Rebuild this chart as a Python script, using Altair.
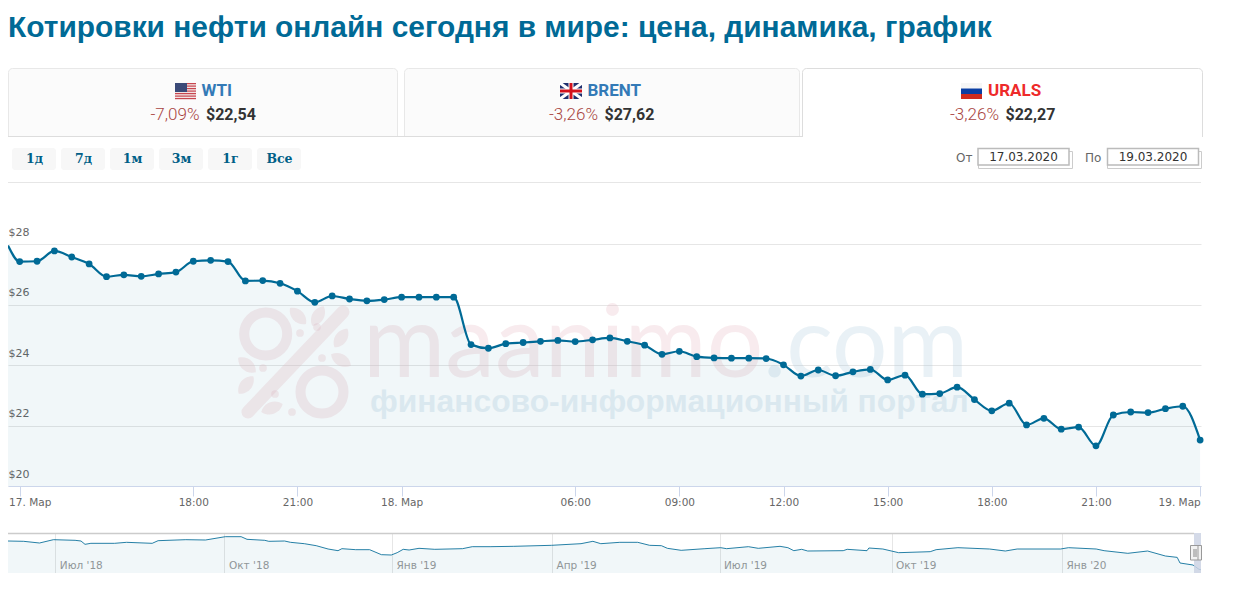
import altair as alt
import pandas as pd

# ---------- data ----------
hours_index = list(range(69))
urals_start = 27.96
urals = [27.43, 27.44, 27.78, 27.58, 27.35, 26.93, 26.99, 26.94, 27.02, 27.08,
         27.44, 27.47, 27.43, 26.79, 26.80, 26.71, 26.45, 26.08, 26.29, 26.19,
         26.13, 26.17, 26.25, 26.25, 26.25, 26.25, 24.68, 24.56, 24.71, 24.75,
         24.79, 24.82, 24.78, 24.84, 24.90, 24.79, 24.66, 24.36, 24.46, 24.28,
         24.24, 24.23, 24.23, 24.22, 24.01, 23.64, 23.84, 23.65, 23.78, 23.86,
         23.51, 23.67, 23.04, 23.06, 23.27, 22.86, 22.49, 22.74, 22.02, 22.24,
         21.88, 21.95, 21.33, 22.35, 22.45, 22.43, 22.56, 22.64, 21.52]
tick_index = [0, 10, 16, 22, 32, 38, 44, 50, 56, 62, 68]
tick_text = ["17. Мар", "18:00", "21:00", "18. Мар", "06:00", "09:00", "12:00",
             "15:00", "18:00", "21:00", "19. Мар"]
price_ticks = [20, 22, 24, 26, 28]

nav_pos = [0, 15.7, 31.5, 45.4, 67.1, 73, 77, 82.9, 106.6, 118.5, 144.2, 150.1, 177.8,
           197.5, 217.3, 233.1, 239, 256.8, 260.8, 276.6, 282.5, 296.3, 308.2, 320.1,
           330, 333.9, 347.7, 361.6, 373.4, 383.3, 389.2, 395.2, 401.1, 411, 426.8,
           454.5, 464.3, 482.1, 505.8, 543.4, 573, 584.9, 592.8, 611.8,
           629.7, 641.6, 653.4, 659.4, 673.2, 696.9, 712.7, 718.6, 740.4, 750.3, 772,
           779.9, 785.8, 793.7, 799.7, 835.2, 839.2, 859, 860.9, 874.8, 890.6, 922.2,
           928.1, 949.9, 981.5, 997.3, 1009.2, 1052.6, 1060.5, 1088.2, 1096.1, 1119.8,
           1139.6, 1157.4, 1169.2, 1172, 1185, 1191, 1193]
nav_price = [77.1, 76.5, 73.3, 79.6, 78.4, 77.1, 70.8, 72.7, 72.7, 74.6, 72.7, 77.7, 79.6,
             79, 85.3, 85.3, 80.3, 78.4, 76.5, 77.1, 74.6, 72, 68.2, 61.9,
             58.7, 62.5, 60.6, 60.6, 51.1, 50.5, 54.9, 61.3, 60, 63.2, 61.3,
             62.5, 66.3, 66.3, 67, 68.9, 72, 76.5, 72, 74.6,
             74.6, 68.9, 68.2, 63.2, 59.4, 62.5, 64.4, 62.5, 66.3, 63.2, 67,
             64.4, 58.7, 61.3, 58.1, 58.7, 61.3, 58.7, 63.8, 61.9, 54.9, 56.8,
             60.6, 64.4, 61.9, 58.1, 61.9, 61.9, 64.4, 61.9, 58.7, 53.7,
             58.1, 48.6, 46, 35.3, 31.5, 23.3, 22.6]
nav_tick_pos = [47.3, 216.5, 384, 544, 711.5, 883.5, 1054]
nav_tick_text = ["Июл '18", "Окт '18", "Янв '19", "Апр '19", "Июл '19", "Окт '19", "Янв '20"]

tab_names = ["WTI", "BRENT", "URALS"]
tab_change = ["-7,09%", "-3,26%", "-3,26%"]
tab_price = ["$22,54", "$27,62", "$22,27"]
range_buttons = ["1д", "7д", "1м", "3м", "1г", "Все"]
page_title = "Котировки нефти онлайн сегодня в мире: цена, динамика, график"
date_from = "17.03.2020"
date_to = "19.03.2020"

# ---------- palette ----------
BLUE = "#006a96"
GRID = "#e6e6e6"
AXIS = "#ccd6eb"
LABEL = "#666666"
FILL_OPACITY = 0.055
FONT_AXIS = "DejaVu Sans"

one = alt.Data(values=[{}])


def labels_expr(pos, txt):
    body = ",".join(f"'{p}':\"{t}\"" for p, t in zip(pos, txt))
    return "{" + body + "}['' + datum.value]"


# ---------- helpers working in page pixels for the page furniture ----------
def header_box(x0, y0, x1, y1, fill=None, stroke=None, sw=1, **kw):
    opts = dict(kw)
    if fill:
        opts["fill"] = fill
    else:
        opts["fillOpacity"] = 0
    if stroke:
        opts["stroke"] = stroke
        opts["strokeWidth"] = sw
    return alt.Chart(one).mark_rect(**opts).encode(
        x=alt.value(x0 - 8), x2=alt.value(x1 - 8), y=alt.value(y0 - 8), y2=alt.value(y1 - 8))


def header_text(x, y, text, size, color, font="Roboto", weight="normal", align="left"):
    return alt.Chart(one).mark_text(
        font=font, fontSize=size, color=color, fontWeight=weight, align=align, baseline="middle"
    ).encode(x=alt.value(x - 8), y=alt.value(y - 8), text=alt.value(text))


def header_line(x0, y0, x1, y1, color, sw=1):
    return alt.Chart(one).mark_rule(color=color, strokeWidth=sw).encode(
        x=alt.value(x0 - 8), x2=alt.value(x1 - 8), y=alt.value(y0 - 8), y2=alt.value(y1 - 8))


layers = [header_text(8, 27.7, page_title, 29.9, BLUE, font="Liberation Sans", weight="bold")]

# tabs
TAB_R = {"cornerRadiusTopLeft": 4, "cornerRadiusTopRight": 4}
layers += [
    header_box(8.5, 68.5, 397.5, 140, fill="#fbfbfb", stroke="#e8e8e8", **TAB_R),
    header_box(404.5, 68.5, 799.5, 140, fill="#fbfbfb", stroke="#e8e8e8", **TAB_R),
    header_box(802.5, 68.5, 1202.5, 140, fill="#ffffff", stroke="#dddddd", **TAB_R),
    header_box(8, 137, 1226, 147, fill="#ffffff"),
    header_line(8, 136.5, 803, 136.5, "#dddddd"),
]

# flags
stripe_tops = [83, 85.5, 88, 90.5, 93, 95.5, 98]
layers.append(header_box(175, 83, 196, 99, fill="#f2e4e4"))
for t in stripe_tops:
    layers.append(header_box(175, t, 196, t + 1.2, fill="#c8464f"))
layers.append(header_box(175, 83, 187, 92, fill="#3b4a78"))

layers.append(header_box(560, 83, 582, 99, fill="#1f2f6e"))
layers.append(header_line(560, 83, 582, 99, "#ffffff", 3))
layers.append(header_line(582, 83, 560, 99, "#ffffff", 3))
layers.append(header_box(568.5, 83, 573.5, 99, fill="#ffffff"))
layers.append(header_box(560, 88.5, 582, 93.5, fill="#ffffff"))
layers.append(header_box(569.5, 83, 572.5, 99, fill="#d3121d"))
layers.append(header_box(560, 89.5, 582, 92.5, fill="#d3121d"))

layers.append(header_box(961, 83, 982, 88.5, fill="#f6f6f6"))
layers.append(header_box(961, 88.5, 982, 94, fill="#0a3ea3"))
layers.append(header_box(961, 94, 982, 99, fill="#cf2b1e"))

# tab texts
name_x = [201.5, 587.5, 988]
name_color = ["#337ab7", "#337ab7", "#ee2a2a"]
change_x = [150.5, 549, 950]
price_x = [206, 604.5, 1005.5]
for i in range(3):
    layers.append(header_text(name_x[i], 91, tab_names[i], 17, name_color[i], weight="bold"))
    layers.append(header_text(change_x[i], 114.5, tab_change[i], 17, "#a94442", weight=300))
    layers.append(header_text(price_x[i], 114.5, tab_price[i], 16, "#333333", weight="bold"))

# range buttons
button_x = [12, 61, 110, 159, 208, 257]
for b, x in zip(range_buttons, button_x):
    layers.append(header_box(x, 148, x + 44, 170, fill="#f7f7f7", cornerRadius=3))
    layers.append(header_text(x + 22.5, 158.5, b, 12.5, "#005f87", font="DejaVu Serif", weight="bold",
                              align="center"))

# date inputs
layers += [
    header_text(956, 157.5, "От", 12, "#666666", font=FONT_AXIS),
    header_box(978.5, 151.5, 1072.5, 168.5, stroke="#cccccc"),
    header_box(978, 148.5, 1069, 165, fill="#ffffff", stroke="#bbbbbb", sw=1.5),
    header_text(1023.5, 156.5, date_from, 12, "#333333", font=FONT_AXIS, align="center"),
    header_text(1085, 157.5, "По", 12, "#666666", font=FONT_AXIS),
    header_box(1107.5, 151.5, 1201.5, 168.5, stroke="#cccccc"),
    header_box(1107.5, 148.5, 1198.5, 165, fill="#ffffff", stroke="#bbbbbb", sw=1.5),
    header_text(1153, 156.5, date_to, 12, "#333333", font=FONT_AXIS, align="center"),
    header_line(8, 182.5, 1201, 182.5, GRID),
]

header = alt.layer(*layers).properties(width=1218, height=175)

# ---------- main plot ----------
M_W, M_H = 1193, 303
x_dom = [-0.674, 68.05]
y_dom = [20, 30.03]

main_df = pd.DataFrame({"i": [x_dom[0]] + hours_index, "price": [urals_start] + urals})
main_df["floor"] = y_dom[0]
dots_df = pd.DataFrame({"i": hours_index, "price": urals})

x_main = alt.X(
    "i:Q", scale=alt.Scale(domain=x_dom, nice=False, zero=False),
    axis=alt.Axis(
        values=tick_index, labelExpr=labels_expr(tick_index, tick_text), title=None, grid=False,
        tickSize=10, tickColor=AXIS, domainColor=AXIS, labelColor=LABEL, labelFont=FONT_AXIS,
        labelFontSize=10.5, labelPadding=1, labelOverlap=False, labelBound=False, labelFlush=False,
        labelAngle=0,
        labelOffset={"condition": [{"test": "datum.value == 0", "value": 10},
                                   {"test": "datum.value == 68", "value": -21}],
                     "value": 0},
    ),
)
y_main = alt.Y(
    "price:Q", scale=alt.Scale(domain=y_dom, nice=False, zero=False),
    axis=alt.Axis(
        values=price_ticks, labelExpr="'$' + datum.value", title=None, grid=True, gridColor=GRID,
        domain=False, ticks=False, tickSize=0, labelAlign="left", labelPadding=0, labelOffset=-12,
        labelColor=LABEL, labelFont=FONT_AXIS, labelFontSize=11, labelOverlap=False, labelBound=False,
    ),
)


def pm(x, y):
    return dict(x=alt.value(x - 8), y=alt.value(y - 183))


PINK = "#e8b9c3"
PALE = "#a9cadd"
wm = []


def wm_text(x, y, t, size, color, opacity, font, weight):
    return alt.Chart(one).mark_text(
        font=font, fontSize=size, color=color, opacity=opacity, fontWeight=weight, align="left", baseline="alphabetic"
    ).encode(text=alt.value(t), **pm(x, y))


wm.append(wm_text(363, 377, "maanimo", 100, PINK, 0.28, "Lato", 400))
wm.append(wm_text(763, 377, ".com", 98, PALE, 0.25, "Lato", 400))
wm.append(wm_text(370, 412, "финансово-информационный портал", 31.8, PALE, 0.27, "Liberation Sans", "bold"))


def ring(x, y):
    return alt.Chart(one).mark_point(shape="circle", filled=False, strokeWidth=10, size=1849,
                                     color=PINK, opacity=0.28).encode(**pm(x, y))


LEAF = "M0,-1 C0.7,-0.5 0.7,0.5 0,1 C-0.7,0.5 -0.7,-0.5 0,-1 Z"


def leaf(x, y, angle, size=520):
    return alt.Chart(one).mark_point(shape=LEAF, filled=True, angle=angle, size=size,
                                     color=PINK, opacity=0.28, strokeWidth=0).encode(**pm(x, y))


def berry(x, y, size=60):
    return alt.Chart(one).mark_point(shape="circle", filled=True, size=size,
                                     color=PINK, opacity=0.28, strokeWidth=0).encode(**pm(x, y))


wm += [ring(265.7, 334), ring(322, 392)]
wm.append(alt.Chart(one).mark_rule(color=PINK, opacity=0.28, strokeWidth=13, strokeCap="round").encode(
    x=alt.value(248 - 8), x2=alt.value(343 - 8), y=alt.value(412 - 183), y2=alt.value(312 - 183)))
for lf in [(298, 316, 315), (318, 316, 30), (341, 338, 35), (341, 360, 120), (247, 365, 310),
           (246, 385, 40), (272, 408, 70)]:
    wm.append(leaf(*lf))
for b in [(317, 327), (300, 333), (322, 358), (263, 368), (275, 394), (292, 412)]:
    wm.append(berry(*b))

base = alt.Chart(main_df)
area = base.mark_area(interpolate="monotone", color=BLUE, opacity=FILL_OPACITY).encode(
    x=x_main, y=y_main, y2="floor:Q")
line = base.mark_line(interpolate="monotone", color=BLUE, strokeWidth=2.2).encode(x=x_main, y=y_main)
dots = alt.Chart(dots_df).mark_circle(color=BLUE, size=46, opacity=1).encode(x=x_main, y=y_main)

main = alt.layer(*wm, area, line, dots).properties(width=M_W, height=M_H)

# ---------- navigator ----------
N_H = 40
nav_dom = [16.3, 92.3]
nav_df = pd.DataFrame({"pos": nav_pos, "price": nav_price})
nav_df["floor"] = nav_dom[0]
x_nav = alt.X(
    "pos:Q", scale=alt.Scale(domain=[0, M_W], nice=False, zero=False),
    axis=alt.Axis(
        values=nav_tick_pos, labelExpr=labels_expr(nav_tick_pos, nav_tick_text), title=None, grid=True,
        gridColor=GRID, domain=False, ticks=False, tickSize=0, labelAlign="left", labelOffset=4,
        labelPadding=-8, labelBaseline="middle", labelColor="#999999", labelFont=FONT_AXIS,
        labelFontSize=10.5, labelOverlap=False, labelBound=False,
    ),
)
y_nav = alt.Y("price:Q", scale=alt.Scale(domain=nav_dom, nice=False, zero=False), axis=None)


def nav_box(x0, y0, x1, y1, **kw):
    return alt.Chart(one).mark_rect(**kw).encode(
        x=alt.value(x0 - 8), x2=alt.value(x1 - 8), y=alt.value(y0 - 533), y2=alt.value(y1 - 533))


def nav_rule(x0, y0, x1, y1, color, sw=1):
    return alt.Chart(one).mark_rule(color=color, strokeWidth=sw).encode(
        x=alt.value(x0 - 8), x2=alt.value(x1 - 8), y=alt.value(y0 - 533), y2=alt.value(y1 - 533))


nav_base = alt.Chart(nav_df)
nav_area = nav_base.mark_area(color=BLUE, opacity=FILL_OPACITY).encode(x=x_nav, y=y_nav, y2="floor:Q")
nav_line = nav_base.mark_line(color=BLUE, strokeWidth=1, opacity=0.85).encode(x=x_nav, y=y_nav)
navigator = alt.layer(
    nav_area,
    nav_line,
    nav_rule(8, 533.5, 1194, 533.5, "#cccccc", 1.5),
    nav_box(1194, 533, 1201, 573, fill="#ccd3e4", opacity=0.85),
    nav_box(1190.5, 545.5, 1201.5, 560, fill="#f2f2f2", stroke="#999999", strokeWidth=1),
    nav_rule(1194, 549, 1194, 557, "#888888"),
    nav_rule(1196, 549, 1196, 557, "#888888"),
    nav_rule(1198, 546, 1198, 560, "#999999"),
).properties(width=M_W, height=N_H)

lower = alt.vconcat(main, navigator, spacing=47, bounds="flush")
chart = alt.vconcat(header, lower, spacing=0, bounds="flush").properties(
    padding={"left": -5, "top": 0, "right": 0, "bottom": 0}
).configure_view(stroke=None)

chart.save("out.html", embed_options={"renderer": "svg", "actions": False})
